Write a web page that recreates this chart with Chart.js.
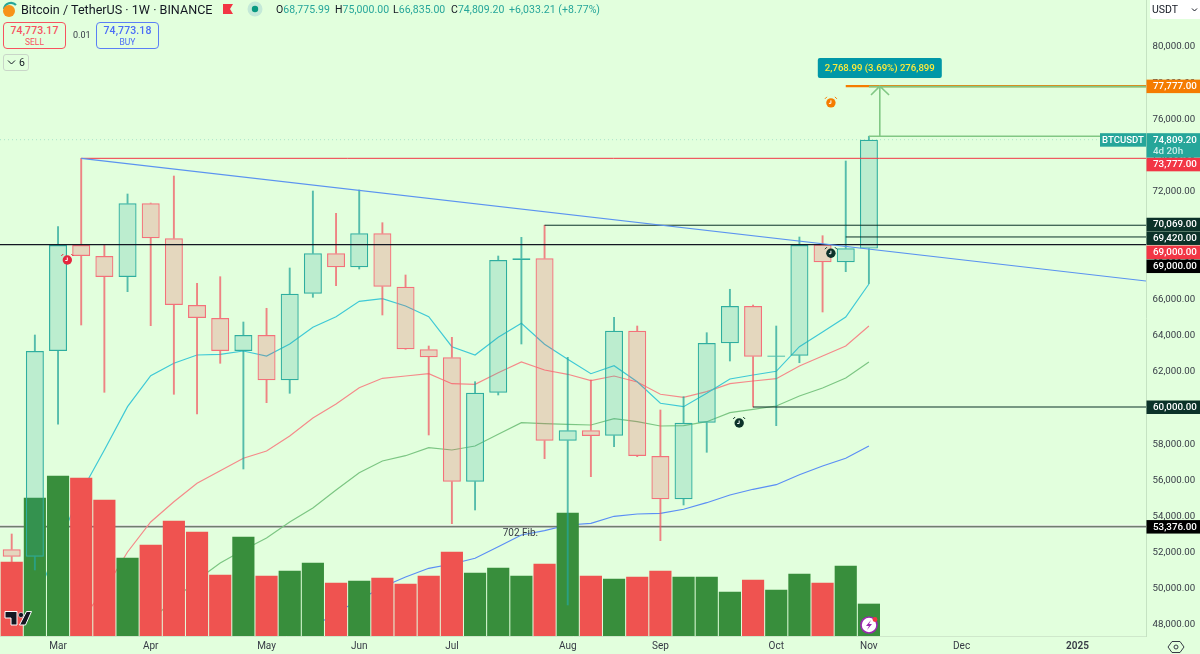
<!DOCTYPE html>
<html>
<head>
<meta charset="utf-8">
<title>Bitcoin / TetherUS</title>
<script src="https://cdn.jsdelivr.net/npm/chart.js@4"></script>
<style>
  body { margin: 0; background: #e2ffdd; font-family: Roboto, sans-serif; color: #131722; }
  #wrap { position: relative; width: 1200px; height: 654px; overflow: hidden; }
  canvas { position: absolute; left: 0; top: 0; }
  .t { position: absolute; white-space: nowrap; }
  .box { position: absolute; box-sizing: border-box; border-radius: 4px; text-align: center; background: #e2ffdd; }
  .box b { display: block; font-weight: 500; font-size: 10.5px; line-height: 13px; margin-top: 1px; letter-spacing: 0.1px; }
  .box i { display: block; font-style: normal; font-size: 8.5px; line-height: 10px; }
  .up { color: #26a69a; }
  .ohlc { top: 2px; font-size: 10.5px; line-height: 15px; letter-spacing: 0.05px; }
  svg { position: absolute; left: 0; top: 0; pointer-events: none; }
</style>
</head>
<body>
<div id="wrap">
  <canvas id="myChart" width="1200" height="654"></canvas>
  <div style="position:absolute;left:1150px;top:0;width:50px;height:19px;background:#fff;border-bottom-left-radius:3px"></div>
  <svg width="1200" height="654">
    <path d="M4 9 A7 7 0 0 1 16 5" fill="none" stroke="#26a69a" stroke-width="2.2"/>
    <circle cx="9" cy="11" r="6" fill="#f7931a"/>
    <path d="M223 4 H233 L230 9 L233 14 H223 Z" fill="#f23645"/>
    <circle cx="255" cy="9" r="7.5" fill="#c4e9d8"/>
    <circle cx="255" cy="9" r="3.2" fill="#089981"/>
    <path d="M8 60.5 L11.5 64 L15 60.5" fill="none" stroke="#131722" stroke-width="1"/>
    <path d="M5 611.5 H17 V625 H11 V618 H5 Z M26.5 611.5 H31.5 L25.5 625 H19.5 Z" fill="#131722" stroke="#fff" stroke-width="1"/>
    <circle cx="21" cy="615" r="2.6" fill="#131722" stroke="#fff" stroke-width="0.6"/>
    <circle cx="869" cy="625" r="8" fill="#fff" stroke="#9c27b0" stroke-width="1.6"/>
    <path d="M871 620 L866 626 H869 L867 630 L872 624 H869 Z" fill="#9c27b0"/>
    <circle cx="875" cy="619.5" r="2.4" fill="#f23645"/>
    <path d="M1172 641.5 H1180 L1184 647 L1180 652.5 H1172 L1168 647 Z" fill="none" stroke="#363a45" stroke-width="1"/>
    <circle cx="1176" cy="647" r="2" fill="none" stroke="#363a45" stroke-width="1"/>
    <path d="M1192 8.5 L1194.5 11 L1197 8.5" fill="none" stroke="#131722" stroke-width="1"/>
  </svg>
  <span class="t" style="left:21px;top:1px;font-size:12.6px;line-height:17px">Bitcoin / TetherUS · 1W · BINANCE</span>
  <span class="t ohlc" style="left:276px">O<span class="up">68,775.99</span></span>
  <span class="t ohlc" style="left:335px">H<span class="up">75,000.00</span></span>
  <span class="t ohlc" style="left:393px">L<span class="up">66,835.00</span></span>
  <span class="t ohlc" style="left:451px">C<span class="up">74,809.20</span></span>
  <span class="t ohlc up" style="left:509px">+6,033.21 (+8.77%)</span>
  <div class="box" style="left:3px;top:22px;width:63px;height:27px;border:1px solid #f7525f;color:#f7525f"><b>74,773.17</b><i>SELL</i></div>
  <span class="t" style="left:73px;top:30px;font-size:9px;line-height:11px;color:#363a45">0.01</span>
  <div class="box" style="left:96px;top:22px;width:63px;height:27px;border:1px solid #5b7ff5;color:#4a6cf7"><b>74,773.18</b><i>BUY</i></div>
  <div class="box" style="left:3px;top:54px;width:26px;height:17px;border:1px solid #c9d6c8;border-radius:3px;background:none"></div>
  <span class="t" style="left:19px;top:56px;font-size:10.5px;line-height:13px">6</span>
  <span class="t" style="left:1152px;top:3px;font-size:10.5px;line-height:13px;color:#131722">USDT</span>
</div>

<script>
// weekly candles, index = position on the x axis
const candleOpen = [52117, 51706, 63102, 68975, 68365, 67202, 71285, 69346, 65651, 64930, 63102, 63989, 61479, 66277, 68515, 67739, 69623, 66665, 63197, 62753, 55862, 60793, 68144, 68238, 58133, 58709, 58410, 64227, 57285, 54887, 59130, 63529, 65595, 62787, 62842, 69000, 68016, 68775.99];
const candleClose = [51706, 63102, 68975, 68365, 67202, 71285, 69346, 65651, 64930, 63102, 63989, 61479, 66277, 68515, 67739, 69623, 66665, 63197, 62753, 55862, 60793, 68144, 68238, 58133, 58709, 58393, 64227, 57285, 54887, 59130, 63546, 65595, 62787, 62850, 68975, 68016, 68792, 74809.2];
const candleHigh = [52964, 63989, 69989, 73777, 68975, 71800, 71300, 72797, 66853, 67219, 64709, 65468, 67701, 71966, 70731, 72022, 70210, 67313, 63379, 63861, 61402, 68365, 69401, 70069, 62753, 61496, 64969, 64487, 59834, 60571, 64116, 66521, 65650, 64487, 69418, 69490, 73628, 75000];
const candleLow = [51430, 50970, 59042, 64543, 60814, 66388, 64504, 60704, 59612, 62421, 56565, 60238, 60759, 66077, 66720, 67645, 65097, 63197, 58449, 53535, 54294, 60665, 63490, 57136, 49031, 56139, 57801, 57247, 52593, 54571, 57490, 62548, 60000, 58964, 62454, 65263, 67496, 66835];
const volumes = [74, 138, 160, 158, 136, 78, 91, 115, 104, 61, 99, 60, 65, 73, 53, 55, 58, 52, 60, 84, 63, 68, 60, 72, 123, 60, 57, 59, 65, 59, 59, 44, 56, 46, 62, 53, 70, 32];

// moving averages, null where the line has not started yet
const maCyan = [null, 49142, 52355, 55291, 57618, 60017, 61734, 62421, 62881, 62920, 63102, 62825, 63490, 64415, 65003, 65856, 66000, 65595, 65003, 63341, 62881, 63861, 64637, 63474, 62643, 61845, 62288, 61402, 60205, 60017, 60759, 61551, 61773, 61978, 63341, 64155, 64986, 66814];
const maRed = [null, null, null, 48200, 49862, 51967, 53629, 54754, 55773, 56471, 57158, 57562, 58393, 59391, 60166, 61069, 61590, 61717, 61845, 61291, 61258, 61900, 62493, 62050, 61812, 61457, 61717, 61385, 60704, 60537, 60848, 61291, 61440, 61568, 62271, 62825, 63379, 64487];
const maGreen = [null, null, null, null, null, null, 48200, 49308, 50416, 51358, 52078, 52743, 53629, 54405, 55402, 56360, 57008, 57302, 57745, 57618, 57839, 58488, 59130, 59075, 59042, 59003, 59352, 59186, 58947, 58964, 59186, 59684, 59873, 60055, 60609, 61053, 61607, 62493];
const maBlue = [null, null, null, null, null, null, null, null, null, null, null, null, null, 47812, 48588, 49308, 50028, 50582, 51064, 51302, 51618, 52261, 52909, 53147, 53463, 53557, 53945, 54072, 54111, 54333, 54698, 55125, 55441, 55695, 56249, 56731, 57158, 57839];

// axis
const monthNames = ['Mar', 'Apr', 'May', 'Jun', 'Jul', 'Aug', 'Sep', 'Oct', 'Nov', 'Dec', '2025'];
const monthIndex = [2, 6, 11, 15, 19, 24, 28, 33, 37, 41, 46];
const priceTicks = [48000, 50000, 52000, 54000, 56000, 58000, 60000, 62000, 64000, 66000, 68000, 70000, 72000, 74000, 76000, 78000, 80000];
const xMin = -0.505;
const xMax = 48.96;
const yMin = 47313;
const yMax = 82548;

// drawn levels: price, the bar it starts from, colour, width
const levelPrice = [73777, 70069, 69420, 69000, 60000];
const levelStart = [3, 23, 36, xMin, 32];
const levelColor = ['#f23645', '#0c3229', '#0c3229', '#131722', '#0c3229'];
const levelWidth = [1, 1, 1, 1.3, 1.2];

// trend line and target arrow
const trendX = [3, xMax];
const trendY = [73777, 66980];
const arrowX = [37, xMax, null, 37.47, 37.47, null, 37.09, 37.47, 37.87, null, 37, xMax];
const arrowY = [75000, 75000, null, 75000, 77777, null, 77285, 77777, 77285, null, 77750, 77750];

// price tags on the right axis
const tagText = ['77,777.00', '74,809.20', '73,777.00', '70,069.00', '69,420.00', '69,000.00', '69,000.00', '60,000.00', '53,376.00'];
const tagPrice = [77777, 74809.2, 73777, 70069, 69420, 69000, 69000, 60000, 53376];
const tagShift = [0, 0, 6, -1, 1, 7.5, 21.5, 0, 0];
const tagColor = ['#f57c00', '#26a69a', '#f23645', '#0c3229', '#0c3229', '#f23645', '#000000', '#0c3229', '#000000'];

// alarm clocks
const alarmX = [2.4, 35.36, 35.36, 31.4];
const alarmY = [68144, 76850, 68520, 59114];
const alarmColor = ['#e5263f', '#f57c00', '#0c3229', '#0c3229'];

const upBorder = '#2fae9f';
const downBorder = '#f4717a';
const isUp = candleOpen.map((o, i) => candleClose[i] >= o);
const colorBy = (up, down) => isUp.map(u => (u ? up : down));
const toPoints = values => values.map((y, x) => ({ x, y }));
const lineSet = (data, color, width, order, extra) => Object.assign({
    type: 'line',
    data,
    borderColor: color,
    borderWidth: width,
    pointRadius: 0,
    tension: 0,
    spanGaps: false,
    order
}, extra);

const priceTags = {
    id: 'priceTags',
    afterDraw(chart) {
        const { ctx, scales } = chart;
        const y = scales.y;
        const x = scales.x;
        const left = x.right + 0.5;
        ctx.save();
        ctx.textBaseline = 'middle';

        // "702 Fib." note
        ctx.fillStyle = '#363a45';
        ctx.font = '10px Roboto';
        ctx.textAlign = 'center';
        ctx.fillText('702 Fib.', x.getPixelForValue(21.96), y.getPixelForValue(53000));

        // alarm clocks
        alarmX.forEach((ax, i) => {
            const px = x.getPixelForValue(ax);
            const py = y.getPixelForValue(alarmY[i]);
            ctx.strokeStyle = alarmColor[i];
            ctx.lineWidth = 1;
            ctx.beginPath();
            ctx.moveTo(px - 6, py - 4);
            ctx.lineTo(px - 4, py - 6);
            ctx.moveTo(px + 4, py - 6);
            ctx.lineTo(px + 6, py - 4);
            ctx.stroke();
            ctx.fillStyle = alarmColor[i];
            ctx.beginPath();
            ctx.arc(px, py, 4.7, 0, Math.PI * 2);
            ctx.fill();
            ctx.strokeStyle = '#fff';
            ctx.beginPath();
            ctx.moveTo(px, py - 2.5);
            ctx.lineTo(px, py + 0.5);
            ctx.lineTo(px - 2, py + 0.5);
            ctx.stroke();
        });

        // measure label above the target
        const mx = x.getPixelForValue(37.47);
        const my = y.getPixelForValue(78780);
        ctx.fillStyle = '#0097a7';
        ctx.beginPath();
        ctx.roundRect(mx - 62, my - 10, 124, 20, 2);
        ctx.fill();
        ctx.fillStyle = '#ffeb3b';
        ctx.font = '500 9.6px Roboto';
        ctx.fillText('2,768.99 (3.69%) 276,899', mx, my + 0.5);

        // BTCUSDT tag
        const lastY = y.getPixelForValue(74809.2);
        ctx.fillStyle = '#26a69a';
        ctx.fillRect(x.right - 46, lastY - 6.5, 46, 13.5);
        ctx.fillStyle = '#fff';
        ctx.fillText('BTCUSDT', x.right - 23, lastY + 0.5);

        // axis tags
        ctx.textAlign = 'left';
        tagText.forEach((text, i) => {
            const py = y.getPixelForValue(tagPrice[i]) + tagShift[i];
            const tall = i === 1 ? 24.5 : 13.5;
            ctx.fillStyle = tagColor[i];
            ctx.fillRect(left, py - 6.5, 1200 - left, tall);
            ctx.fillStyle = '#fff';
            ctx.font = '500 9.8px Roboto';
            ctx.fillText(text, 1153, py + 0.5);
            if (i === 1) {
                ctx.fillStyle = '#c9ece7';
                ctx.fillText('4d 20h', 1153, py + 11.5);
            }
        });
        ctx.restore();
    }
};

const datasets = [
    lineSet(toPoints(maCyan), '#3fc9d6', 1.2, 6),
    lineSet(toPoints(maRed), '#f58a8a', 1.2, 6),
    lineSet(toPoints(maGreen), '#7cc683', 1.2, 6),
    lineSet(toPoints(maBlue), '#5b8ef5', 1.2, 6),
    lineSet([{ x: xMin, y: 53376 }, { x: xMax, y: 53376 }], '#6f7f6e', 1.8, 6),
    lineSet([{ x: xMin, y: 53376 }, { x: xMax, y: 53376 }], 'rgba(255,255,255,0.8)', 3.4, 7),
    lineSet([{ x: xMin, y: 74809.2 }, { x: xMax, y: 74809.2 }], 'rgba(38,166,154,0.3)', 1, 6, { borderDash: [1, 3] }),
    {
        data: toPoints(volumes),
        yAxisID: 'y1',
        barThickness: 21.5,
        backgroundColor: colorBy('#388e3c', '#ef5350'),
        order: 5
    },
    {
        data: candleHigh.map((h, x) => ({ x, y: [Math.max(candleOpen[x], candleClose[x]), h] })),
        barThickness: 1.25,
        backgroundColor: colorBy('rgba(38,166,154,0.75)', 'rgba(242,90,100,0.75)'),
        order: 4
    },
    {
        data: candleLow.map((l, x) => ({ x, y: [l, Math.min(candleOpen[x], candleClose[x])] })),
        barThickness: 1.25,
        backgroundColor: colorBy('rgba(38,166,154,0.75)', 'rgba(242,90,100,0.75)'),
        order: 4
    },
    {
        data: candleOpen.map((o, x) => ({ x, y: [o, candleClose[x]] })),
        barThickness: 18,
        borderWidth: 1.2,
        borderSkipped: false,
        inflateAmount: 0,
        borderColor: colorBy(upBorder, downBorder),
        backgroundColor: colorBy('rgba(38,166,154,0.2)', 'rgba(242,54,69,0.2)'),
        order: 3
    },
    lineSet(trendX.map((x, i) => ({ x, y: trendY[i] })), '#5b93f0', 1.2, 2),
    lineSet([{ x: 36, y: 77777 }, { x: xMax, y: 77777 }], '#f57c00', 2.4, 2)
];

levelPrice.forEach((price, i) => {
    datasets.push(lineSet([{ x: levelStart[i], y: price }, { x: xMax, y: price }], levelColor[i], levelWidth[i], 2));
});

datasets.push(lineSet(arrowX.map((x, i) => ({ x, y: arrowY[i] })), '#81c784', 1.6, 1));

new Chart(document.getElementById('myChart').getContext('2d'), {
    type: 'bar',
    data: { datasets },
    plugins: [priceTags],
    options: {
        responsive: false,
        animation: false,
        events: [],
        layout: { padding: 0 },
        datasets: { bar: { grouped: false } },
        plugins: { legend: { display: false }, tooltip: { enabled: false } },
        scales: {
            x: {
                type: 'linear',
                offset: false,
                min: xMin,
                max: xMax,
                grid: { display: false, offset: false, drawTicks: false },
                border: { color: '#cfe8cb' },
                afterBuildTicks: axis => {
                    axis.ticks = monthIndex.map(value => ({ value }));
                },
                afterFit: axis => {
                    axis.height = 18;
                    axis.paddingLeft = 0;
                    axis.paddingRight = 0;
                },
                ticks: {
                    autoSkip: false,
                    maxRotation: 0,
                    padding: 4,
                    color: '#363a45',
                    font: ctx => ({ family: 'Roboto', size: 10, weight: ctx.tick && ctx.tick.value === 46 ? '600' : '400' }),
                    callback: value => monthNames[monthIndex.indexOf(value)]
                }
            },
            y: {
                position: 'right',
                min: yMin,
                max: yMax,
                grid: { display: false, drawTicks: false },
                border: { color: '#c5e3c2' },
                afterBuildTicks: axis => {
                    axis.ticks = priceTicks.map(value => ({ value }));
                },
                afterFit: axis => {
                    axis.width = 54;
                    axis.paddingTop = 0;
                    axis.paddingBottom = 0;
                },
                ticks: {
                    autoSkip: false,
                    padding: 6.5,
                    labelOffset: 1,
                    color: '#363a45',
                    font: { family: 'Roboto', size: 9.7 },
                    callback: value => value.toLocaleString('en-US', { minimumFractionDigits: 2 })
                }
            },
            y1: {
                display: false,
                min: 0,
                max: 636
            }
        }
    }
});
</script>
</body>
</html>
